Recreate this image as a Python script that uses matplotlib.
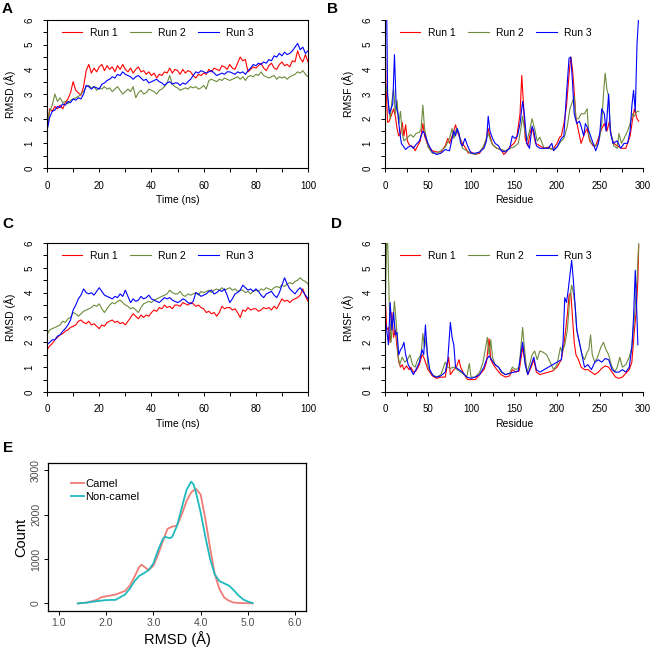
import matplotlib
matplotlib.use("Agg")
import matplotlib.pyplot as plt

plt.rcParams['font.family'] = ['Liberation Sans', 'DejaVu Sans']

run_colors = ['#FF0000', '#6E8B3D', '#0000FF']
run_names = ['Run 1', 'Run 2', 'Run 3']

time_ns = list(range(101))

# panel A - RMSD, one value per ns
a_run1 = [1.6, 2.4, 2.3, 2.5, 2.4, 2.55, 2.4, 2.65, 2.8, 3.05, 3.5, 3.15, 3.05, 2.95, 3.3, 3.95, 4.2, 3.85, 4.05, 3.9,
          4.1, 4.2, 3.95, 4.15, 4.0, 4.1, 3.9, 4.15, 4.0, 4.2, 4.0, 3.9, 4.05, 3.85, 4.0, 4.1, 3.9, 3.95, 3.8, 3.9,
          3.75, 3.85, 3.65, 3.8, 3.75, 3.9, 3.85, 4.05, 3.85, 4.0, 3.95, 3.8, 4.0, 3.85, 3.95, 3.9, 3.75, 3.65, 3.8, 3.75,
          3.85, 3.8, 4.0, 3.9, 4.05, 4.0, 3.95, 4.15, 4.1, 4.0, 4.2, 4.05, 4.0, 4.25, 4.5, 4.35, 4.4, 3.9, 4.0, 4.1,
          4.05, 4.15, 4.25, 4.05, 3.95, 4.15, 4.25, 4.05, 4.0, 4.2, 4.3, 4.15, 4.2, 4.1, 4.35, 4.3, 4.75, 4.45, 4.3, 4.6,
          4.3]
a_run2 = [1.7, 2.3, 2.55, 3.0, 2.7, 2.85, 2.65, 2.7, 2.6, 2.75, 2.8, 2.85, 2.9, 3.0, 3.1, 3.3, 3.35, 3.25, 3.3, 3.15,
          3.25, 3.2, 3.3, 3.2, 3.25, 3.1, 3.2, 3.3, 3.15, 3.0, 3.1, 3.2, 3.1, 3.3, 2.85, 3.05, 3.15, 3.0, 3.05, 3.2,
          3.15, 3.1, 3.0, 3.15, 3.2, 3.3, 3.45, 3.75, 3.4, 3.3, 3.25, 3.15, 3.2, 3.25, 3.2, 3.3, 3.25, 3.3, 3.2, 3.25,
          3.35, 3.2, 3.55, 3.6, 3.55, 3.5, 3.6, 3.55, 3.65, 3.6, 3.55, 3.6, 3.65, 3.7, 3.6, 3.7, 3.55, 3.7, 3.75, 3.7,
          3.8, 3.75, 3.9, 3.75, 3.7, 3.65, 3.7, 3.75, 3.6, 3.7, 3.65, 3.7, 3.6, 3.7, 3.75, 3.8, 3.9, 3.85, 3.95, 3.8,
          3.7]
a_run3 = [1.5, 2.05, 2.3, 2.35, 2.5, 2.45, 2.6, 2.55, 2.7, 2.65, 2.8, 2.75, 2.85, 2.8, 3.0, 3.35, 3.3, 3.2, 3.3, 3.25,
          3.2, 3.4, 3.45, 3.55, 3.6, 3.7, 3.65, 3.8, 3.75, 3.9, 3.8, 3.75, 3.7, 3.6, 3.7, 3.75, 3.65, 3.55, 3.6, 3.45,
          3.5, 3.55, 3.6, 3.5, 3.45, 3.35, 3.45, 3.5, 3.4, 3.45, 3.45, 3.35, 3.45, 3.4, 3.5, 3.6, 3.75, 3.9, 3.85, 3.95,
          3.9, 3.85, 3.9, 3.95, 3.85, 3.75, 3.8, 3.85, 3.8, 3.9, 3.9, 3.85, 3.8, 3.9, 3.85, 3.9, 3.8, 3.95, 4.05, 4.2,
          4.15, 4.25, 4.2, 4.3, 4.25, 4.4, 4.35, 4.55, 4.5, 4.65, 4.55, 4.7, 4.6, 4.65, 4.75, 4.9, 5.05, 4.8, 4.9, 4.65,
          4.75]

# panel C - RMSD
c_run1 = [1.7, 1.85, 1.95, 2.1, 2.2, 2.3, 2.35, 2.45, 2.5, 2.6, 2.65, 2.7, 2.85, 2.9, 2.8, 2.75, 2.85, 2.7, 2.75, 2.65,
          2.55, 2.7, 2.65, 2.8, 2.85, 2.9, 2.8, 2.85, 2.75, 2.8, 2.7, 2.85, 3.0, 3.15, 3.05, 2.95, 3.1, 3.0, 3.1, 3.05,
          3.2, 3.3, 3.25, 3.4, 3.35, 3.5, 3.4, 3.45, 3.35, 3.5, 3.5, 3.45, 3.6, 3.55, 3.5, 3.6, 3.55, 3.45, 3.5, 3.4,
          3.35, 3.2, 3.25, 3.15, 3.2, 3.05, 3.2, 3.45, 3.35, 3.4, 3.4, 3.3, 3.35, 3.2, 3.0, 3.3, 3.25, 3.4, 3.3, 3.35,
          3.35, 3.25, 3.3, 3.4, 3.35, 3.4, 3.3, 3.45, 3.35, 3.55, 3.75, 3.65, 3.7, 3.6, 3.7, 3.75, 3.8, 3.9, 4.15, 3.85,
          3.65]
c_run2 = [2.3, 2.5, 2.55, 2.6, 2.65, 2.7, 2.85, 2.8, 2.95, 3.0, 3.2, 3.15, 3.05, 3.15, 3.25, 3.3, 3.35, 3.4, 3.5, 3.45,
          3.55, 3.35, 3.2, 3.35, 3.5, 3.6, 3.55, 3.65, 3.7, 3.6, 3.5, 3.45, 3.35, 3.4, 3.3, 3.2, 3.4, 3.55, 3.6, 3.65,
          3.6, 3.7, 3.75, 3.8, 3.85, 3.9, 3.95, 4.1, 4.0, 3.95, 3.95, 4.05, 3.9, 3.85, 3.95, 3.9, 3.95, 4.0, 3.9, 4.05,
          4.0, 4.05, 4.1, 4.0, 4.1, 4.15, 4.1, 4.2, 4.1, 4.15, 4.2, 4.1, 4.15, 4.05, 4.1, 4.1, 4.0, 4.05, 3.95, 4.05,
          4.1, 4.05, 4.15, 4.1, 4.2, 4.15, 4.1, 4.2, 4.25, 4.2, 4.3, 4.25, 4.35, 4.4, 4.35, 4.45, 4.5, 4.6, 4.5, 4.45,
          4.35]
c_run3 = [1.9, 2.0, 2.1, 2.1, 2.25, 2.3, 2.45, 2.55, 2.7, 2.9, 3.3, 3.5, 3.75, 3.9, 4.15, 4.0, 3.95, 4.0, 3.9, 4.05,
          4.2, 4.05, 3.9, 3.85, 3.8, 3.75, 3.85, 3.8, 3.95, 3.85, 4.1, 3.85, 3.6, 3.75, 3.65, 3.7, 3.85, 3.75, 3.8, 3.9,
          3.75, 3.7, 3.65, 3.6, 3.7, 3.8, 3.75, 3.8, 3.7, 3.65, 3.6, 3.65, 3.75, 3.7, 3.6, 3.55, 3.65, 4.0, 3.95, 3.85,
          3.9, 3.95, 4.05, 4.1, 3.95, 4.0, 4.1, 4.05, 4.15, 3.9, 3.6, 3.75, 3.95, 4.0, 4.1, 4.3, 4.2, 4.1, 4.15, 4.05,
          4.15, 4.05, 3.9, 3.8, 3.95, 4.0, 4.05, 3.9, 3.8, 4.0, 4.3, 4.6, 4.35, 4.15, 4.05, 3.95, 4.1, 4.2, 4.05, 3.9,
          3.75]

# panel B - RMSF (residue, value read at the turning points)
b_res1 = [0, 1, 3, 5, 8, 10, 12, 14, 16, 18, 20, 22, 24, 26, 28, 30, 33, 35, 38, 41, 44, 46, 50, 55, 60, 65, 70, 73,
          75, 78, 80, 82, 84, 86, 90, 94, 97, 100, 105, 110, 115, 118, 120, 122, 125, 130, 135, 138, 140, 145, 150,
          153, 157, 159, 161, 163, 166, 170, 172, 175, 180, 185, 190, 195, 200, 203, 205, 208, 211, 214, 216, 218,
          220, 222, 225, 228, 232, 235, 238, 242, 245, 248, 252, 255, 258, 261, 263, 266, 270, 275, 280, 285, 288,
          290, 293, 295]
b_run1 = [6.0, 3.5, 1.85, 1.9, 2.2, 2.4, 2.1, 1.6, 1.3, 1.4, 1.85, 1.3, 1.75, 1.1, 0.95, 0.9, 0.85, 0.7, 0.9, 1.1,
          1.8, 1.3, 0.9, 0.7, 0.65, 0.65, 0.9, 1.2, 1.0, 1.3, 1.5, 1.75, 1.5, 1.3, 1.0, 0.8, 0.6, 0.65, 0.55, 0.6,
          0.9, 1.2, 1.6, 1.3, 0.95, 0.8, 0.75, 0.55, 0.6, 0.85, 1.0, 1.2, 2.2, 3.75, 2.6, 1.2, 0.9, 1.6, 1.5, 1.0,
          0.9, 0.8, 0.85, 0.75, 1.0, 1.25, 1.3, 1.8, 2.5, 3.8, 4.5, 4.0, 3.1, 2.0, 1.5, 1.0, 1.4, 1.6, 1.1, 0.9,
          0.9, 1.2, 1.6, 1.8, 1.5, 1.9, 1.3, 1.0, 0.9, 0.8, 0.8, 1.3, 2.0, 2.4, 2.0, 1.9]
b_res2 = [0, 2, 4, 6, 8, 10, 12, 14, 16, 18, 20, 22, 25, 28, 30, 33, 36, 40, 42, 44, 46, 50, 55, 60, 65, 70, 75, 78,
          80, 83, 86, 90, 95, 100, 105, 110, 115, 120, 122, 125, 130, 135, 140, 145, 150, 155, 158, 160, 162, 165,
          168, 171, 174, 177, 180, 185, 190, 195, 200, 205, 208, 212, 215, 218, 220, 222, 225, 228, 232, 235, 237,
          240, 245, 248, 250, 252, 254, 256, 258, 260, 262, 266, 270, 272, 275, 278, 282, 285, 288, 290, 293, 295]
b_run2 = [3.5, 3.2, 2.6, 2.0, 2.7, 3.2, 2.2, 2.75, 1.8, 2.3, 1.4, 1.1, 1.2, 1.3, 1.35, 1.25, 1.4, 1.45, 1.6, 2.55,
          1.6, 0.85, 0.6, 0.6, 0.7, 0.85, 1.2, 1.6, 1.2, 1.6, 1.4, 0.8, 0.7, 0.6, 0.55, 0.65, 0.9, 1.4, 1.2, 0.95,
          0.8, 0.75, 0.7, 0.8, 0.85, 1.0, 1.6, 2.1, 1.6, 1.1, 1.5, 2.0, 1.6, 1.1, 1.25, 0.8, 0.8, 0.75, 0.85, 1.1,
          1.2, 1.7, 2.4, 2.7, 2.9, 2.0, 2.0, 2.2, 2.2, 2.4, 1.3, 1.0, 0.9, 1.0, 1.3, 1.8, 3.0, 3.85, 3.2, 2.9,
          1.5, 0.9, 0.8, 1.4, 1.0, 1.2, 1.5, 1.8, 2.2, 2.1, 2.3, 2.3]
b_res3 = [0, 2, 3, 5, 7, 9, 11, 13, 15, 17, 19, 21, 24, 27, 30, 33, 36, 40, 44, 46, 50, 55, 60, 65, 70, 75, 78, 80,
          82, 84, 86, 88, 90, 93, 96, 100, 105, 110, 115, 118, 120, 122, 125, 128, 132, 135, 140, 145, 148, 151, 154,
          157, 160, 162, 165, 168, 171, 173, 176, 180, 185, 190, 194, 196, 200, 205, 208, 211, 214, 216, 218, 220,
          223, 226, 228, 231, 233, 236, 239, 242, 245, 248, 250, 252, 255, 257, 260, 262, 265, 270, 274, 278, 282,
          285, 287, 289, 291, 293, 295]
b_run3 = [6.2, 6.2, 3.0, 2.2, 2.4, 2.6, 4.6, 2.5, 2.2, 1.5, 1.0, 0.9, 0.75, 0.85, 0.9, 0.8, 0.95, 1.1, 1.5, 1.4,
          1.0, 0.65, 0.55, 0.6, 0.75, 0.7, 1.2, 1.5, 1.3, 1.6, 1.4, 1.0, 0.9, 1.2, 0.9, 0.6, 0.6, 0.65, 0.8, 1.1,
          2.1, 1.5, 1.2, 1.0, 0.9, 0.7, 0.65, 0.8, 1.3, 1.2, 1.3, 1.8, 2.7, 2.2, 1.0, 0.8, 1.7, 1.5, 0.9, 0.8,
          0.8, 0.8, 1.0, 0.7, 0.85, 1.2, 1.3, 3.0, 4.45, 4.5, 3.5, 2.2, 1.8, 1.9, 1.7, 1.3, 1.8, 1.6, 1.3, 1.0,
          0.7, 1.0, 1.5, 2.4, 2.2, 1.5, 3.0, 1.5, 1.0, 1.1, 0.8, 1.0, 1.0, 1.5, 2.5, 3.15, 2.3, 5.0, 6.2]

# panel D - RMSF
d_res1 = [0, 2, 4, 6, 8, 10, 12, 14, 16, 18, 20, 22, 25, 28, 30, 33, 36, 40, 43, 45, 48, 50, 55, 60, 65, 70, 74, 76,
          80, 83, 86, 88, 92, 96, 100, 105, 110, 115, 118, 121, 123, 126, 130, 135, 140, 145, 148, 152, 156, 160,
          163, 166, 170, 173, 176, 180, 185, 190, 195, 200, 205, 208, 210, 212, 214, 216, 218, 220, 222, 225, 228,
          232, 236, 240, 244, 248, 252, 256, 260, 264, 268, 272, 276, 280, 284, 287, 290, 292, 294, 295]
d_run1 = [4.0, 2.5, 2.6, 2.0, 3.2, 2.2, 2.5, 1.8, 1.2, 1.0, 1.1, 0.9, 1.05, 0.9, 1.0, 0.8, 0.85, 1.1, 1.5, 1.4,
          1.1, 0.9, 0.65, 0.55, 0.6, 0.6, 1.4, 0.7, 0.9, 1.0, 1.3, 1.0, 0.7, 0.5, 0.5, 0.5, 0.7, 0.9, 1.2, 2.15,
          1.3, 1.1, 0.9, 0.7, 0.6, 0.65, 0.9, 0.8, 0.85, 1.8, 1.2, 0.7, 1.0, 1.3, 0.8, 0.7, 0.75, 0.8, 0.85, 1.0,
          1.3, 1.9, 2.5, 3.1, 3.9, 4.0, 3.0, 2.0, 1.5, 1.3, 1.0, 0.9, 0.9, 0.8, 0.7, 0.8, 0.95, 1.05, 1.0, 0.8,
          0.6, 0.55, 0.6, 0.75, 0.9, 1.2, 2.5, 3.2, 4.5, 5.9]
d_res2 = [0, 2, 3, 5, 7, 9, 11, 13, 15, 17, 20, 23, 26, 29, 32, 35, 38, 42, 44, 46, 48, 50, 55, 60, 65, 68, 70, 73,
          76, 80, 84, 88, 92, 95, 98, 100, 105, 110, 114, 117, 119, 121, 123, 125, 128, 132, 135, 140, 145, 148, 152,
          156, 160, 162, 165, 168, 171, 174, 177, 180, 184, 188, 192, 196, 200, 204, 206, 209, 212, 215, 217, 219,
          221, 223, 226, 229, 232, 235, 237, 239, 241, 244, 247, 251, 254, 257, 260, 263, 267, 270, 273, 276, 280,
          284, 287, 290, 293, 295]
d_run2 = [3.0, 6.2, 6.2, 3.5, 2.0, 2.8, 3.65, 2.8, 1.5, 1.1, 1.4, 1.2, 1.3, 1.5, 1.1, 1.0, 1.3, 1.5, 2.35, 1.8,
          2.2, 1.0, 0.7, 0.6, 0.7, 1.0, 1.2, 1.0, 0.95, 1.0, 0.9, 0.8, 0.7, 0.6, 1.15, 0.6, 0.6, 0.8, 1.2, 1.8,
          2.2, 1.5, 2.1, 1.4, 1.1, 1.0, 0.8, 0.7, 0.75, 1.0, 0.9, 1.0, 2.6, 1.8, 0.8, 1.1, 1.5, 1.65, 1.3, 1.65,
          1.6, 1.5, 1.2, 0.9, 1.1, 1.8, 1.6, 1.9, 2.5, 3.8, 4.3, 4.0, 3.5, 2.5, 2.0, 1.5, 1.3, 1.6, 1.7, 2.3,
          1.5, 1.2, 1.4, 1.8, 2.0, 1.7, 1.5, 1.1, 0.8, 1.0, 1.4, 1.0, 1.1, 1.4, 1.8, 3.0, 4.5, 6.0]
d_res3 = [0, 2, 4, 6, 8, 10, 12, 14, 16, 18, 20, 22, 24, 27, 30, 33, 36, 40, 43, 45, 47, 49, 52, 56, 60, 65, 70, 73,
          76, 78, 80, 82, 86, 90, 95, 100, 105, 110, 115, 118, 121, 124, 128, 132, 136, 140, 145, 150, 155, 160, 163,
          166, 170, 173, 176, 180, 185, 190, 195, 200, 205, 207, 209, 211, 213, 215, 217, 219, 221, 223, 226, 229,
          232, 236, 240, 244, 248, 252, 256, 260, 264, 268, 272, 276, 280, 284, 287, 289, 291, 293, 294]
d_run3 = [2.9, 2.5, 1.9, 3.6, 2.5, 3.2, 2.3, 2.4, 1.5, 1.7, 1.8, 2.0, 1.5, 1.1, 0.9, 0.7, 0.9, 1.2, 1.7, 1.5,
          2.7, 1.6, 0.9, 0.65, 0.6, 0.65, 0.8, 1.3, 2.8, 2.2, 1.9, 1.0, 0.9, 0.8, 0.6, 0.55, 0.6, 0.7, 1.0, 1.3,
          1.45, 1.3, 1.1, 1.0, 0.8, 0.7, 0.75, 0.8, 0.85, 2.0, 1.1, 0.7, 1.1, 1.4, 0.9, 0.8, 0.9, 1.0, 1.1, 1.2,
          1.3, 2.0, 3.8, 3.6, 4.1, 4.7, 5.3, 4.5, 3.5, 2.5, 2.0, 1.5, 1.0, 1.1, 0.9, 1.2, 1.3, 1.2, 1.35, 1.3,
          0.9, 0.8, 0.8, 0.9, 0.8, 1.0, 1.8, 3.0, 4.9, 3.0, 1.9]

# panel E - RMSD distributions
camel_x = [1.4, 1.6, 1.8, 1.9, 2.0, 2.2, 2.4, 2.5, 2.6, 2.7, 2.75, 2.8, 2.9, 3.0, 3.1, 3.2, 3.3, 3.4, 3.5, 3.6,
           3.7, 3.8, 3.9, 4.0, 4.1, 4.2, 4.3, 4.4, 4.5, 4.6, 4.7, 4.8, 5.0, 5.1]
camel_count = [0, 20, 80, 140, 160, 200, 280, 400, 600, 820, 870, 830, 750, 850, 1100, 1400, 1680, 1730, 1750, 2000,
               2300, 2500, 2580, 2450, 1900, 1250, 650, 320, 130, 60, 20, 10, 5, 0]
noncamel_x = [1.4, 1.6, 1.8, 2.0, 2.2, 2.4, 2.5, 2.6, 2.7, 2.8, 2.9, 3.0, 3.1, 3.2, 3.25, 3.3, 3.35, 3.4, 3.5, 3.6,
              3.7, 3.8, 3.85, 3.9, 4.0, 4.1, 4.2, 4.3, 4.4, 4.5, 4.6, 4.7, 4.8, 4.9, 5.0, 5.1]
noncamel_count = [0, 20, 50, 75, 80, 200, 330, 500, 620, 680, 750, 900, 1200, 1450, 1500, 1480, 1470, 1500, 1750, 2150,
                  2550, 2740, 2680, 2500, 2050, 1500, 1000, 650, 500, 450, 400, 300, 180, 90, 40, 10]


def r_style(ax, box=True):
    for s in ['top', 'right']:
        ax.spines[s].set_visible(box)
    for s in ax.spines.values():
        s.set_linewidth(0.8)
    ax.tick_params(direction='out', length=3, width=0.7, labelsize=7, pad=6)
    ax.tick_params(which='minor', direction='out', length=3, width=0.7)
    for lab in ax.get_yticklabels():
        lab.set_rotation(90)
        lab.set_va('center')


def add_legend(ax):
    ax.legend(loc='upper left', bbox_to_anchor=(0.02, 1.01), ncol=3, frameon=False, fontsize=7.5,
              handlelength=2.0, handletextpad=0.7, columnspacing=1.2)


def rmsd_panel(ax, runs):
    for vals, c, n in zip(runs, run_colors, run_names):
        ax.plot(time_ns, vals, color=c, lw=0.8, label=n)
    ax.set_xlim(0, 100)
    ax.set_ylim(0, 6)
    ax.set_xticks(range(0, 101, 20))
    ax.set_xticks(range(0, 101, 10), minor=True)
    ax.set_yticks(range(0, 7))
    ax.set_yticks([i + 0.5 for i in range(6)], minor=True)
    ax.set_ylabel('RMSD (Å)', fontsize=7.5, labelpad=6)
    ax.set_xlabel('Time (ns)', fontsize=7.5, labelpad=3)
    add_legend(ax)
    r_style(ax, box=True)


def rmsf_panel(ax, series):
    for (res, vals), c, n in zip(series, run_colors, run_names):
        ax.plot(res, vals, color=c, lw=0.8, label=n)
    ax.set_xlim(0, 300)
    ax.set_ylim(0, 6)
    ax.set_xticks(range(0, 301, 50))
    ax.set_xticks(range(0, 301, 25), minor=True)
    ax.set_yticks(range(0, 7))
    ax.set_yticks([i + 0.5 for i in range(6)], minor=True)
    ax.set_ylabel('RMSF (Å)', fontsize=7.5, labelpad=6)
    ax.set_xlabel('Residue', fontsize=7.5, labelpad=3)
    add_legend(ax)
    r_style(ax, box=False)


fig = plt.figure(figsize=(6.55, 6.49), dpi=100)

ax_a = fig.add_axes([0.0718, 0.7411, 0.3985, 0.2280])
ax_b = fig.add_axes([0.5878, 0.7411, 0.3939, 0.2280])
ax_c = fig.add_axes([0.0718, 0.3960, 0.3985, 0.2296])
ax_d = fig.add_axes([0.5878, 0.3960, 0.3939, 0.2296])
ax_e = fig.add_axes([0.0733, 0.0586, 0.3939, 0.2280])

rmsd_panel(ax_a, [a_run1, a_run2, a_run3])
rmsf_panel(ax_b, [(b_res1, b_run1), (b_res2, b_run2), (b_res3, b_run3)])
rmsd_panel(ax_c, [c_run1, c_run2, c_run3])
rmsf_panel(ax_d, [(d_res1, d_run1), (d_res2, d_run2), (d_res3, d_run3)])

# E
ax_e.plot(camel_x, camel_count, color='#F07C76', lw=1.3, label='Camel')
ax_e.plot(noncamel_x, noncamel_count, color='#1FBABE', lw=1.3, label='Non-camel')
ax_e.set_xlim(0.77, 6.23)
ax_e.set_ylim(-170, 3160)
ax_e.set_xticks([1, 2, 3, 4, 5, 6])
ax_e.set_xticklabels(['1.0', '2.0', '3.0', '4.0', '5.0', '6.0'])
ax_e.set_yticks([0, 1000, 2000, 3000])
ax_e.tick_params(direction='out', length=3, width=0.7, labelsize=7.5, pad=2, labelcolor='#4D4D4D')
for lab in ax_e.get_yticklabels():
    lab.set_rotation(90)
    lab.set_va('center')
for s in ax_e.spines.values():
    s.set_linewidth(0.9)
ax_e.set_xlabel('RMSD (Å)', fontsize=10.5, labelpad=2)
ax_e.set_ylabel('Count', fontsize=10.5, labelpad=2)
ax_e.legend(loc='upper left', bbox_to_anchor=(0.05, 0.96), frameon=False, fontsize=8,
            handlelength=1.2, handletextpad=0.1, labelspacing=0.3)

for lbl, x, y in [('A', 0.003, 0.997), ('B', 0.499, 0.997), ('C', 0.003, 0.665),
                  ('D', 0.506, 0.665), ('E', 0.005, 0.320)]:
    fig.text(x, y, lbl, fontsize=11, fontweight='bold', va='top', ha='left')

fig.savefig('out.png', dpi=100)
